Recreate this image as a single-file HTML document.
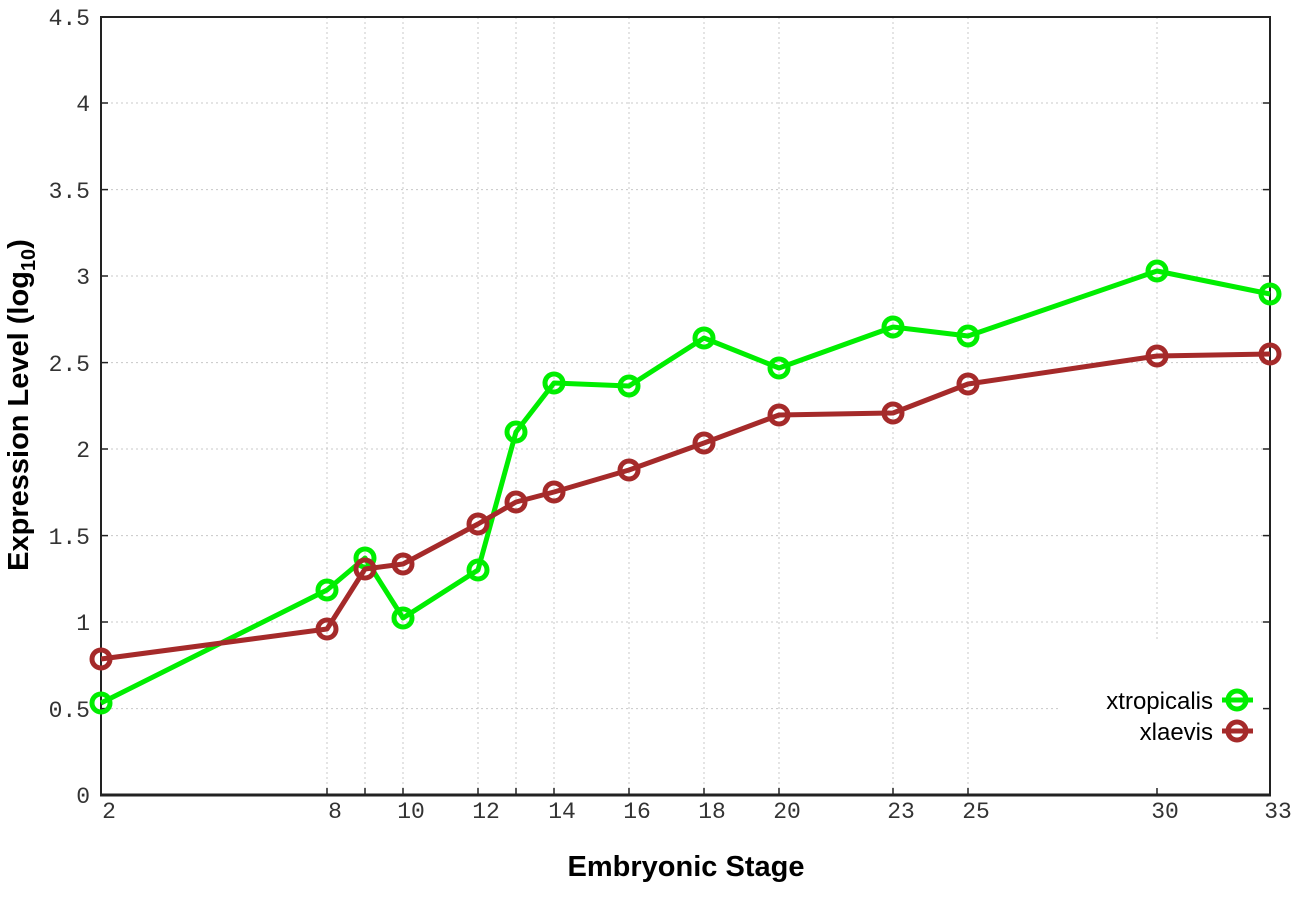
<!DOCTYPE html>
<html><head><style>body{margin:0;background:#fff}svg{display:block}</style></head><body>
<svg width="1296" height="907" xmlns="http://www.w3.org/2000/svg">
<g stroke="#c8c8c8" stroke-width="1" stroke-dasharray="2,3">
<line x1="101" x2="1060" y1="708.6" y2="708.6"/>
<line x1="101" x2="1270" y1="622" y2="622"/>
<line x1="101" x2="1270" y1="535.6" y2="535.6"/>
<line x1="101" x2="1270" y1="449" y2="449"/>
<line x1="101" x2="1270" y1="362.6" y2="362.6"/>
<line x1="101" x2="1270" y1="276" y2="276"/>
<line x1="101" x2="1270" y1="189.6" y2="189.6"/>
<line x1="101" x2="1270" y1="103" y2="103"/>
<line x1="327" x2="327" y1="17" y2="795"/><line x1="365" x2="365" y1="17" y2="795"/>
<line x1="403" x2="403" y1="17" y2="795"/><line x1="478" x2="478" y1="17" y2="795"/>
<line x1="516" x2="516" y1="17" y2="795"/><line x1="554" x2="554" y1="17" y2="795"/>
<line x1="629" x2="629" y1="17" y2="795"/><line x1="704" x2="704" y1="17" y2="795"/>
<line x1="779" x2="779" y1="17" y2="795"/><line x1="893" x2="893" y1="17" y2="795"/>
<line x1="968" x2="968" y1="17" y2="795"/><line x1="1157" x2="1157" y1="17" y2="640"/>
</g>
<rect x="101" y="17" width="1169" height="778" fill="none" stroke="#222" stroke-width="2"/>
<line x1="100" x2="1271" y1="795" y2="795" stroke="#222" stroke-width="3"/>
<g stroke="#222" stroke-width="1.5">
<line x1="101" x2="108" y1="708.6" y2="708.6"/><line x1="101" x2="108" y1="622" y2="622"/>
<line x1="101" x2="108" y1="535.6" y2="535.6"/><line x1="101" x2="108" y1="449" y2="449"/>
<line x1="101" x2="108" y1="362.6" y2="362.6"/><line x1="101" x2="108" y1="276" y2="276"/>
<line x1="101" x2="108" y1="189.6" y2="189.6"/><line x1="101" x2="108" y1="103" y2="103"/>
<line x1="1270" x2="1263" y1="708.6" y2="708.6"/><line x1="1270" x2="1263" y1="622" y2="622"/>
<line x1="1270" x2="1263" y1="535.6" y2="535.6"/><line x1="1270" x2="1263" y1="449" y2="449"/>
<line x1="1270" x2="1263" y1="362.6" y2="362.6"/><line x1="1270" x2="1263" y1="276" y2="276"/>
<line x1="1270" x2="1263" y1="189.6" y2="189.6"/><line x1="1270" x2="1263" y1="103" y2="103"/>
<line x1="327" x2="327" y1="795" y2="788"/><line x1="365" x2="365" y1="795" y2="788"/>
<line x1="403" x2="403" y1="795" y2="788"/><line x1="478" x2="478" y1="795" y2="788"/>
<line x1="516" x2="516" y1="795" y2="788"/><line x1="554" x2="554" y1="795" y2="788"/>
<line x1="629" x2="629" y1="795" y2="788"/><line x1="704" x2="704" y1="795" y2="788"/>
<line x1="779" x2="779" y1="795" y2="788"/><line x1="893" x2="893" y1="795" y2="788"/>
<line x1="968" x2="968" y1="795" y2="788"/><line x1="1157" x2="1157" y1="795" y2="788"/>
</g>
<g font-family="Liberation Mono, monospace" font-size="23" fill="#333" text-anchor="end">
<text x="90" y="803">0</text><text x="90" y="717">0.5</text><text x="90" y="630">1</text>
<text x="90" y="544">1.5</text><text x="90" y="457">2</text><text x="90" y="371">2.5</text>
<text x="90" y="284">3</text><text x="90" y="198">3.5</text><text x="90" y="111">4</text><text x="90" y="25">4.5</text>
</g>
<g font-family="Liberation Mono, monospace" font-size="23" fill="#333" text-anchor="middle">
<text x="109" y="818">2</text><text x="335" y="818">8</text><text x="411" y="818">10</text>
<text x="486" y="818">12</text><text x="562" y="818">14</text><text x="637" y="818">16</text>
<text x="712" y="818">18</text><text x="787" y="818">20</text><text x="901" y="818">23</text>
<text x="976" y="818">25</text><text x="1165" y="818">30</text><text x="1278" y="818">33</text>
</g>
<g fill="none" stroke-linejoin="round">
<polyline stroke="#00ee00" stroke-width="5" points="101,703 327,590 365,558 403,618 478,570 516,432 554,383 629,386 704,338 779,368 893,327 968,336 1157,271 1270,294"/>
<g stroke="#00ee00" stroke-width="5">
<circle cx="101" cy="703" r="9"/><circle cx="327" cy="590" r="9"/><circle cx="365" cy="558" r="9"/><circle cx="403" cy="618" r="9"/><circle cx="478" cy="570" r="9"/><circle cx="516" cy="432" r="9"/><circle cx="554" cy="383" r="9"/><circle cx="629" cy="386" r="9"/><circle cx="704" cy="338" r="9"/><circle cx="779" cy="368" r="9"/><circle cx="893" cy="327" r="9"/><circle cx="968" cy="336" r="9"/><circle cx="1157" cy="271" r="9"/><circle cx="1270" cy="294" r="9"/>
</g>
<polyline stroke="#a52a2a" stroke-width="5" points="101,659 327,629 365,569 403,564 478,524 516,502 554,492 629,470 704,443 779,415 893,413 968,384 1157,356 1270,354"/>
<g stroke="#a52a2a" stroke-width="5">
<circle cx="101" cy="659" r="9"/><circle cx="327" cy="629" r="9"/><circle cx="365" cy="569" r="9"/><circle cx="403" cy="564" r="9"/><circle cx="478" cy="524" r="9"/><circle cx="516" cy="502" r="9"/><circle cx="554" cy="492" r="9"/><circle cx="629" cy="470" r="9"/><circle cx="704" cy="443" r="9"/><circle cx="779" cy="415" r="9"/><circle cx="893" cy="413" r="9"/><circle cx="968" cy="384" r="9"/><circle cx="1157" cy="356" r="9"/><circle cx="1270" cy="354" r="9"/>
</g>
<line x1="1222" x2="1253" y1="700" y2="700" stroke="#00ee00" stroke-width="5"/>
<circle cx="1237" cy="700" r="9" stroke="#00ee00" stroke-width="5"/>
<line x1="1222" x2="1253" y1="731" y2="731" stroke="#a52a2a" stroke-width="5"/>
<circle cx="1237" cy="731" r="9" stroke="#a52a2a" stroke-width="5"/>
</g>
<g font-family="Liberation Sans, sans-serif" font-size="24" fill="#000" text-anchor="end">
<text x="1213" y="709">xtropicalis</text><text x="1213" y="740">xlaevis</text>
</g>
<text x="686" y="876" font-family="Liberation Sans, sans-serif" font-size="29" font-weight="bold" text-anchor="middle">Embryonic Stage</text>
<text transform="translate(28,405) rotate(-90)" font-family="Liberation Sans, sans-serif" font-size="29" font-weight="bold" text-anchor="middle">Expression Level (log<tspan font-size="20" dy="7">10</tspan><tspan dy="-7">)</tspan></text>
</svg>
</body></html>
